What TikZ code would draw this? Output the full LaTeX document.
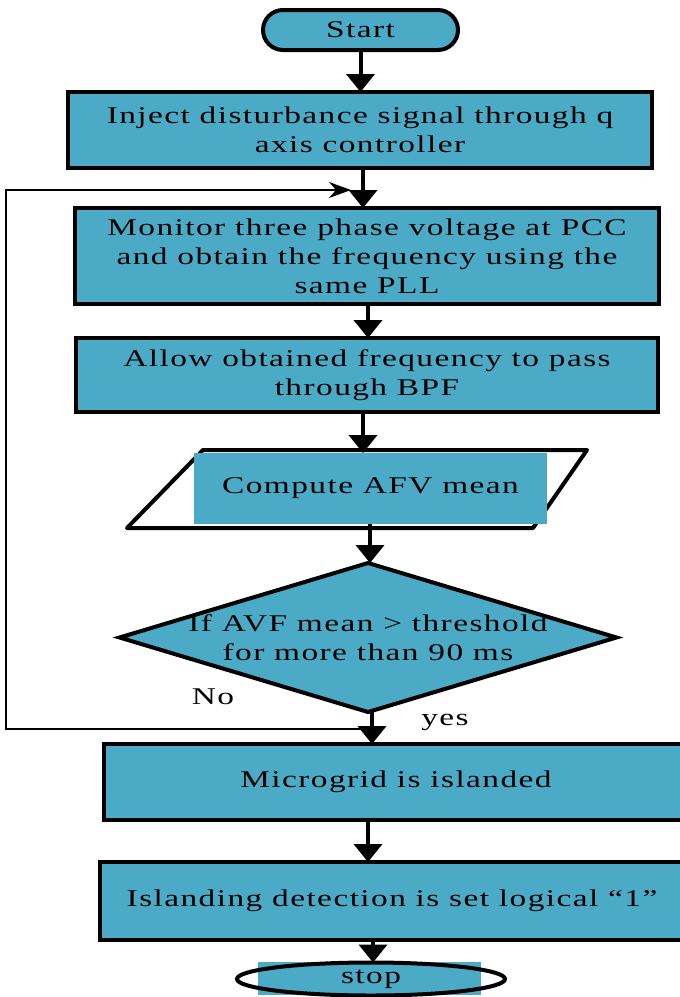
\documentclass[tikz,border=0pt]{standalone}
\usepackage{fontspec}
\setmainfont{Liberation Serif}[FakeStretch=1.39,LetterSpace=6]
\usetikzlibrary{arrows.meta,shapes.geometric}
\definecolor{boxfill}{RGB}{75,171,198}
\begin{document}
\begin{tikzpicture}[x=1pt,y=-1pt,
  every node/.style={font=\fontsize{24}{29}\selectfont, inner sep=0pt, outer sep=0pt},
  procbox/.style={draw, line width=4pt, fill=boxfill, align=center},
  flow/.style={line width=4pt, -{Triangle[length=18pt,width=28pt]}},
  loopline/.style={line width=1.8pt, -{Stealth[length=22pt,width=16pt,inset=7pt]}},
]
\useasboundingbox (0,0) rectangle (680,997);

% terminal and process boxes
\node[procbox, rounded corners=20pt, minimum width=195pt, minimum height=40pt] (st) at (360.5,30) {Start};
\node[procbox, minimum width=584pt, minimum height=76pt] (b1) at (360,130)
  {Inject disturbance signal through q\\axis controller};
\node[procbox, minimum width=584pt, minimum height=96pt] (b2) at (367,256)
  {Monitor three phase voltage at PCC\\and obtain the frequency using the\\same PLL};
\node[procbox, minimum width=582pt, minimum height=74pt] (b3) at (367,375)
  {Allow obtained frequency to pass\\through BPF};

% input/output block: outline behind a filled panel
\draw[line width=4pt, line join=round] (203,450) -- (587,450) -- (533,528) -- (127,528) -- cycle;
\node[fill=boxfill, minimum width=353pt, minimum height=71pt] (p) at (370.5,488.5) {Compute AFV mean};

% decision
\node[diamond, draw, line width=4pt, fill=boxfill, minimum width=497pt, minimum height=149pt] (d) at (368,637.5) {};
\node[align=center] (dtxt) at (d.center) {If AVF mean > threshold\\for more than 90 ms};

% these two boxes run past the right edge of the page
\node[procbox, minimum width=584pt, minimum height=76pt] (b4) at (396,782) {Microgrid is islanded};
\node[procbox, minimum width=584pt, minimum height=78pt] (b5) at (392,901)
  {Islanding detection is set logical “1”};

% end terminal: filled panel under an ellipse outline
\node[fill=boxfill, minimum width=223pt, minimum height=33pt] (stopbg) at (369.5,978.5) {};
\node[ellipse, draw, line width=4pt, minimum width=268pt, minimum height=33pt] (stop) at (371,979) {stop};

% branch labels
\node (nolab) at (213,697) {No};
\node (yeslab) at (445,722) {yes};

% main flow
\draw[flow] (st.south) -- (st.south |- b1.north);
\draw[flow] ([xshift=3pt]b1.south) -- ([xshift=3pt]b1.south |- b2.north);
\draw[flow] ([xshift=1pt]b2.south) -- ([xshift=1pt]b2.south |- b3.north);
\draw[flow] ([xshift=-4pt]b3.south) -- ([xshift=-4pt]b3.south |- p.north);
\draw[flow] ([xshift=-0.5pt]p.south) -- ([xshift=-0.5pt]p.south |- d.north);
\draw[flow] ([xshift=4pt]d.south) -- ([xshift=4pt]d.south |- b4.north);
\draw[flow] ([xshift=-28pt]b4.south) -- ([xshift=-28pt]b4.south |- b5.north);
\draw[flow] ([xshift=-19pt]b5.south) -- ([xshift=-19pt]b5.south |- stop.north);

% "No" feedback loop
\coordinate (nojoin) at (362,729);
\coordinate (lb) at (6,729);
\coordinate (lt) at (6,190);
\coordinate (entry) at (351,190);
\draw[loopline] (nojoin) -- (lb) -- (lt) -- (entry);
\end{tikzpicture}
\end{document}
